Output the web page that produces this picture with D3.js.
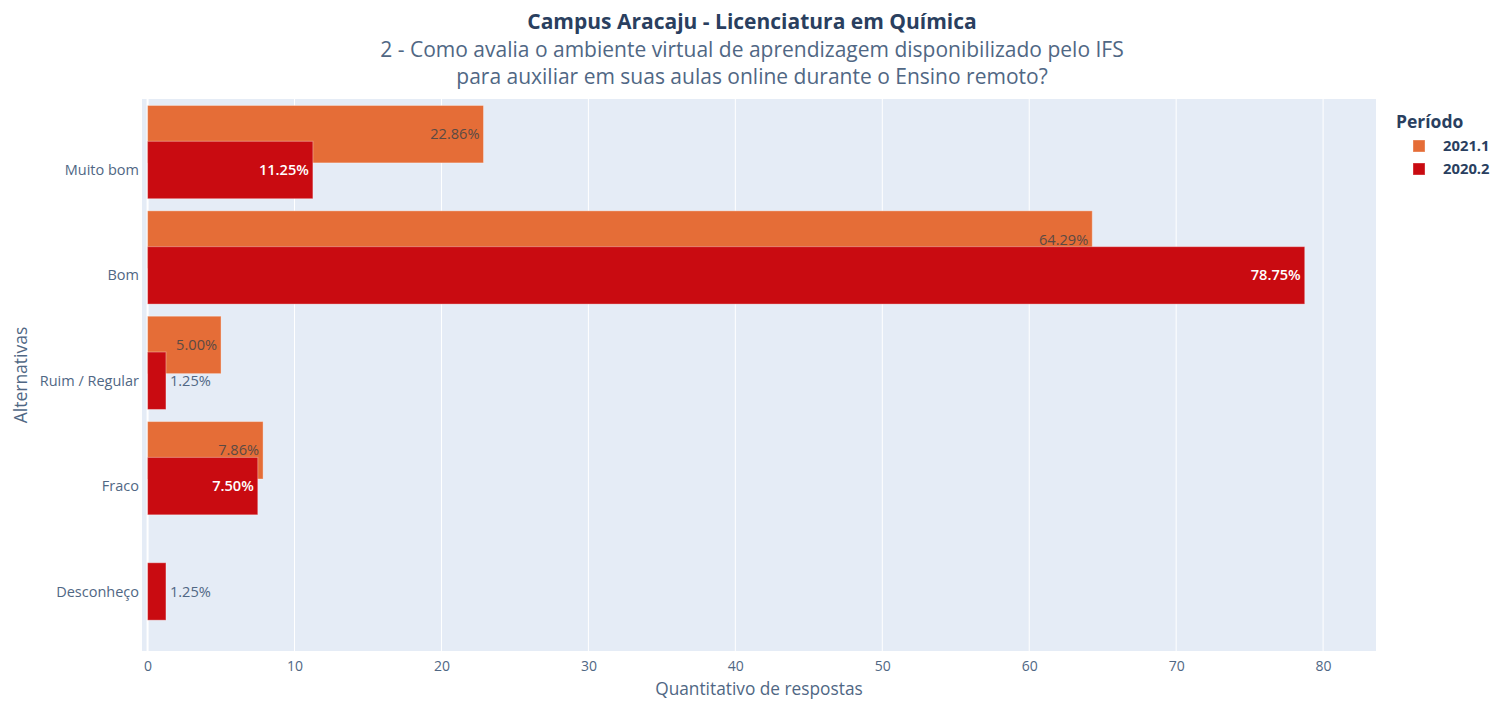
<!DOCTYPE html>
<html>
<head>
<meta charset="utf-8">
<script src="https://cdn.jsdelivr.net/npm/d3@7"></script>
<style>
  body { margin: 0; background: #fff; }
  text { font-family: "Open Sans", sans-serif; }
</style>
</head>
<body>
<div id="chart"></div>
<script>
const categories = ["Muito bom", "Bom", "Ruim / Regular", "Fraco", "Desconheço"];
const periods = ["2021.1", "2020.2"];
const values2021 = [22.86, 64.29, 5.0, 7.86, null];
const values2020 = [11.25, 78.75, 1.25, 7.5, 1.25];
const xTicks = [0, 10, 20, 30, 40, 50, 60, 70, 80];

const width = 1494;
const height = 701;
const margin = { top: 99, left: 142, bottom: 50, right: 118 };
const iwidth = width - margin.left - margin.right;
const iheight = height - margin.top - margin.bottom;

const colors = { "2021.1": "#e56d37", "2020.2": "#c90b11" };
const fontColor = "#2a3f5f";
const tickColor = "#506784";

const svg = d3.select("#chart").append("svg")
  .attr("width", width)
  .attr("height", height);

// titles
const titles = svg.append("g").attr("text-anchor", "middle").attr("fill", fontColor);
titles.append("text").attr("x", 752).attr("y", 29)
  .style("font-size", "21px").style("font-weight", "bold")
  .text("Campus Aracaju - Licenciatura em Química");
titles.append("text").attr("x", 752).attr("y", 57)
  .style("font-size", "21px").attr("fill", "#506784")
  .text("2 - Como avalia o ambiente virtual de aprendizagem disponibilizado pelo IFS");
titles.append("text").attr("x", 752).attr("y", 84)
  .style("font-size", "21px").attr("fill", "#506784")
  .text("para auxiliar em suas aulas online durante o Ensino remoto?");

const g = svg.append("g")
  .attr("transform", `translate(${margin.left},${margin.top})`);

g.append("rect")
  .attr("width", iwidth)
  .attr("height", iheight)
  .attr("fill", "#e5ecf6");

const x = d3.scaleLinear().domain([-0.38, 83.6]).range([0, iwidth]);
// category index -> pixel (categories are 105.5 px apart)
const y = d3.scaleLinear().domain([-0.674, 4.565]).range([0, iheight]);
const barH = 0.545;
const offsets = { "2021.1": -0.34, "2020.2": 0 };

// vertical grid
g.append("g")
  .selectAll("line")
  .data(xTicks.filter((d) => d !== 0))
  .join("line")
  .attr("x1", (d) => x(d)).attr("x2", (d) => x(d))
  .attr("y1", 0).attr("y2", iheight)
  .attr("stroke", "#fff").attr("stroke-width", 1);
g.append("line")
  .attr("x1", x(0)).attr("x2", x(0))
  .attr("y1", 0).attr("y2", iheight)
  .attr("stroke", "#fff").attr("stroke-width", 2);

// x axis
const xAxis = g.append("g")
  .attr("transform", `translate(0,${iheight})`)
  .call(d3.axisBottom(x).tickValues(xTicks).tickSize(0).tickPadding(10));
xAxis.select(".domain").remove();
xAxis.selectAll("text").attr("fill", tickColor).style("font-size", "14px");

// y axis labels
g.append("g")
  .selectAll("text")
  .data(categories)
  .join("text")
  .attr("x", -3)
  .attr("y", (d, i) => y(i))
  .attr("dy", "0.35em")
  .attr("text-anchor", "end")
  .attr("fill", tickColor)
  .style("font-size", "14.5px")
  .text((d) => d);

// axis titles
svg.append("text")
  .attr("x", margin.left + iwidth / 2).attr("y", 695)
  .attr("text-anchor", "middle").attr("fill", tickColor)
  .style("font-size", "17.3px")
  .text("Quantitativo de respostas");
svg.append("text")
  .attr("transform", `translate(27,${margin.top + iheight / 2}) rotate(-90)`)
  .attr("text-anchor", "middle").attr("fill", tickColor)
  .style("font-size", "17.5px")
  .text("Alternativas");

function drawSeries(period, vals, insideColor, weight) {
  const data = vals.map((v, i) => ({ v, i })).filter((d) => d.v != null);
  const sg = g.append("g");
  sg.selectAll("rect")
    .data(data)
    .join("rect")
    .attr("x", x(0))
    .attr("y", (d) => y(d.i + offsets[period] - barH / 2))
    .attr("width", (d) => x(d.v) - x(0))
    .attr("height", y(barH) - y(0))
    .attr("fill", colors[period])
    .attr("stroke", "rgba(255,255,255,0.35)")
    .attr("stroke-width", 1);
  sg.selectAll("text")
    .data(data)
    .join("text")
    .each(function (d) {
      const label = d.v.toFixed(2) + "%";
      const w = x(d.v) - x(0);
      const inside = w > 60;
      d3.select(this)
        .attr("x", inside ? x(d.v) - 4 : x(d.v) + 4)
        .attr("y", y(d.i + offsets[period]))
        .attr("dy", "0.35em")
        .attr("text-anchor", inside ? "end" : "start")
        .attr("fill", inside ? insideColor : tickColor)
        .style("font-size", "14.6px")
        .style("font-weight", inside ? weight : "normal")
        .text(label);
    });
}

drawSeries("2021.1", values2021, "#5a4a44", "normal");
drawSeries("2020.2", values2020, "#ffffff", "600");

// legend
const legend = svg.append("g").attr("transform", "translate(1396,0)");
legend.append("text").attr("x", 0).attr("y", 128)
  .attr("fill", fontColor).style("font-size", "17.5px").style("font-weight", "bold")
  .text("Período");
periods.forEach((p, i) => {
  const ly = 146 + i * 23;
  legend.append("rect")
    .attr("x", 17).attr("y", ly - 6).attr("width", 12).attr("height", 12)
    .attr("fill", colors[p]).attr("stroke", "rgba(255,255,255,0.35)");
  legend.append("text").attr("x", 47).attr("y", ly).attr("dy", "0.35em")
    .attr("fill", fontColor).style("font-size", "14.8px").style("font-weight", "bold")
    .text(p);
});
</script>
</body>
</html>
